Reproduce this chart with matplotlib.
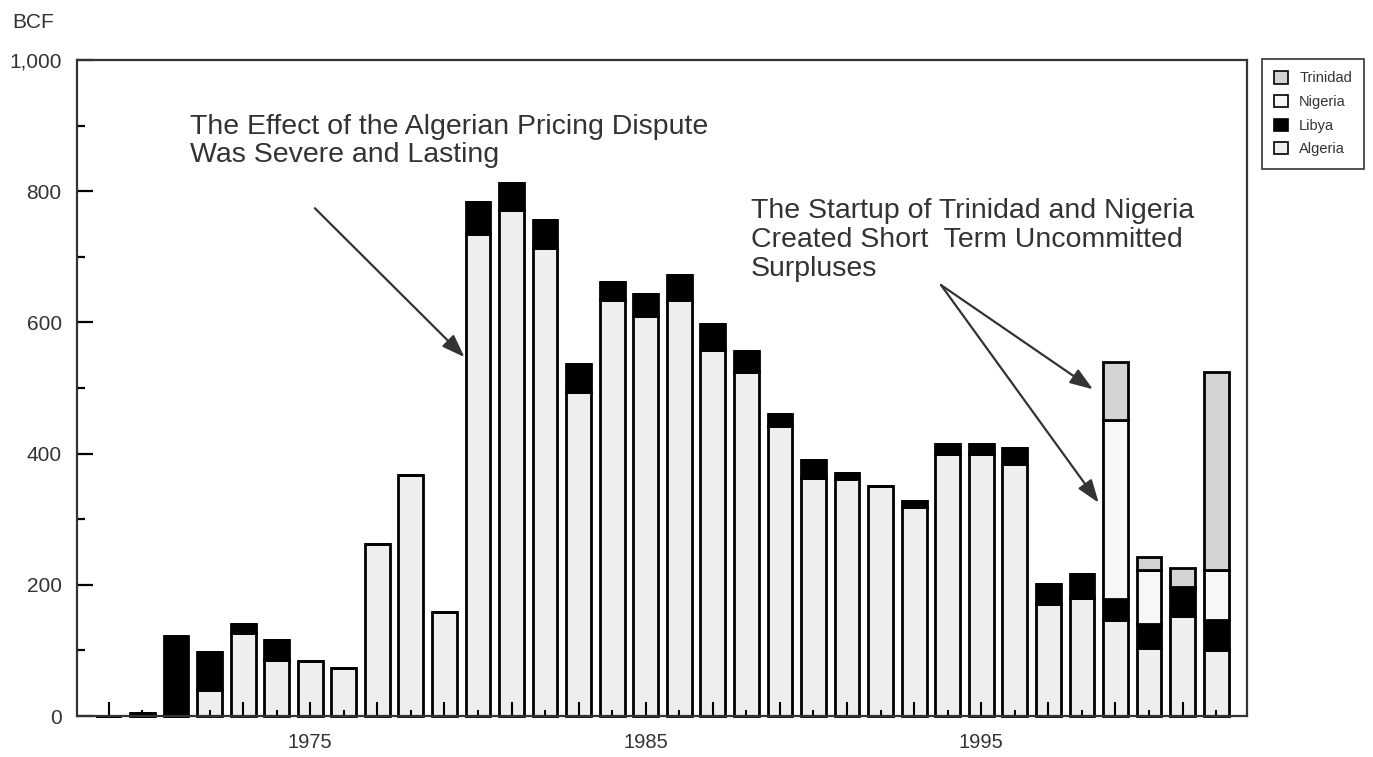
import matplotlib
matplotlib.use('Agg')
import matplotlib.pyplot as plt
from matplotlib.ticker import FixedLocator, FuncFormatter
from matplotlib.patches import Patch

# ---- data (BCF) ----
years = list(range(1969, 2003))
algeria = [0, 0, 0, 40, 126, 86, 84, 73, 262, 368, 158, 735, 771, 713, 494, 634,
           610, 634, 558, 525, 442, 363, 361, 350, 318, 399, 399, 384, 171, 180,
           147, 104, 153, 101]
libya = [0, 4, 122, 58, 14, 30, 0, 0, 0, 0, 0, 48, 42, 43, 42, 27,
         33, 39, 39, 32, 18, 27, 10, 0, 10, 15, 15, 24, 30, 36,
         32, 36, 43, 45]
nigeria = [0] * 30 + [272, 82, 0, 76]
trinidad = [0] * 30 + [88, 21, 29, 302]

series_names = ['Algeria', 'Libya', 'Nigeria', 'Trinidad']
series_values = [algeria, libya, nigeria, trinidad]
series_colors = ['#eeeeee', '#000000', '#f7f7f7', '#d3d3d3']

x_label_years = [1975, 1985, 1995]
y_major = [0, 200, 400, 600, 800, 1000]
y_minor = [100, 300, 500, 700, 900]

note1 = "The Effect of the Algerian Pricing Dispute\nWas Severe and Lasting"
note2 = "The Startup of Trinidad and Nigeria\nCreated Short  Term Uncommitted\nSurpluses"

plt.rcParams['font.family'] = ['Liberation Sans', 'DejaVu Sans']
TXT = '#333333'

W, H = 1373, 757
fig = plt.figure(figsize=(W / 100, H / 100), dpi=100)
ax = fig.add_axes([77 / W, 1 - 716 / H, (1247 - 77) / W, (716 - 60) / H])

bottom = [0] * len(years)
for name, vals, col in zip(series_names, series_values, series_colors):
    ax.bar(years, vals, width=0.74, bottom=bottom, color=col, edgecolor='black',
           linewidth=2.0, label=name, clip_on=False, zorder=1)
    bottom = [b + v for b, v in zip(bottom, vals)]

ax.set_xlim(1968.05, 2002.92)
ax.set_ylim(0, 1000)

for s in ax.spines.values():
    s.set_color('#333333')
    s.set_linewidth(1.6)
    s.set_zorder(2.5)

# x ticks: long at odd years, short at even years; labels at selected years
major_x = [y for y in years if y % 2 == 1]
minor_x = [y for y in years if y % 2 == 0]
ax.xaxis.set_major_locator(FixedLocator(major_x))
ax.xaxis.set_minor_locator(FixedLocator(minor_x))
ax.xaxis.set_major_formatter(FuncFormatter(lambda v, p: str(int(round(v))) if int(round(v)) in x_label_years else ''))
ax.tick_params(axis='x', which='major', direction='in', length=10, width=1.5,
               color='black', pad=12, labelsize=14.5, labelcolor=TXT)
ax.tick_params(axis='x', which='minor', direction='in', length=4, width=1.5, color='black')

ax.yaxis.set_major_locator(FixedLocator(y_major))
ax.yaxis.set_minor_locator(FixedLocator(y_minor))
ax.yaxis.set_major_formatter(FuncFormatter(lambda v, p: f"{v:,.0f}"))
ax.tick_params(axis='y', which='major', direction='in', length=11.5, width=1.6,
               color='black', pad=11, labelsize=15, labelcolor=TXT)
ax.tick_params(axis='y', which='minor', direction='in', length=6, width=1.6, color='black')

fig.text(12 / W, 1 - 22 / H, 'BCF', fontsize=15, color=TXT, ha='left', va='center')

# annotations
fig.text(190 / W, 1 - 114 / H, note1, fontsize=20.5, color=TXT, ha='left', va='top',
         linespacing=1.1)
fig.text(751 / W, 1 - 198 / H, note2, fontsize=20.5, color=TXT, ha='left', va='top',
         linespacing=1.15)

aprops = dict(arrowstyle='-|>,head_length=0.7,head_width=0.25', color='#333333',
              lw=1.6, mutation_scale=20, shrinkA=0, shrinkB=0)
ax.annotate('', xy=(1979.6, 547), xytext=(1975.14, 774), arrowprops=aprops, annotation_clip=False)
ax.annotate('', xy=(1998.33, 498), xytext=(1993.8, 657), arrowprops=aprops, annotation_clip=False)
ax.annotate('', xy=(1998.5, 325), xytext=(1993.8, 657), arrowprops=aprops, annotation_clip=False)

handles = [Patch(facecolor=c, edgecolor='black', linewidth=1.2, label=n)
           for n, c in zip(series_names, series_colors)][::-1]
leg = fig.legend(handles=handles, loc='upper left', bbox_to_anchor=(1262 / W, 1 - 59 / H),
                 bbox_transform=fig.transFigure, frameon=True, fancybox=False,
                 fontsize=10.5, handlelength=0.9, handleheight=0.9, handletextpad=0.8,
                 labelspacing=0.65, borderpad=0.85, borderaxespad=0)
leg.get_frame().set_edgecolor('black')
leg.get_frame().set_linewidth(1.2)
for t in leg.get_texts():
    t.set_color(TXT)

fig.savefig('out.png', dpi=100)
